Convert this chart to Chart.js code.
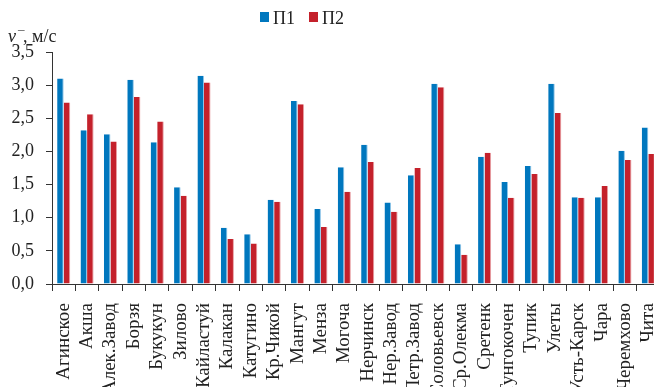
<!DOCTYPE html>
<html>
<head>
<meta charset="utf-8">
<script src="https://cdn.jsdelivr.net/npm/chart.js@4.4.1/dist/chart.umd.min.js"></script>
<style>
html,body{margin:0;padding:0;overflow:hidden;background:#fff;width:654px;height:387px;}
#wrap{width:654px;height:387px;overflow:hidden;position:relative;}
canvas{display:block;}
</style>
</head>
<body>
<div id="wrap"><canvas id="c" width="662" height="387"></canvas></div>
<script>
const categories = ['Агинское','Акша','Алек.Завод','Борзя','Букукун','Зилово','Кайластуй','Калакан','Катугино','Кр.Чикой','Мангут','Менза','Могоча','Нерчинск','Нер.Завод','Петр.Завод','Соловьевск','Ср.Олекма','Сретенк','Тунгокочен','Тупик','Улеты','Усть-Карск','Чара','Черемхово','Чита'];
const seriesP1 = [3.10,2.32,2.26,3.08,2.14,1.46,3.14,0.85,0.75,1.27,2.76,1.13,1.76,2.10,1.23,1.64,3.02,0.60,1.92,1.54,1.78,3.02,1.31,1.31,2.01,2.36];
const seriesP2 = [2.74,2.56,2.15,2.82,2.45,1.33,3.04,0.68,0.61,1.24,2.71,0.86,1.39,1.84,1.09,1.75,2.97,0.44,1.98,1.30,1.66,2.58,1.30,1.48,1.87,1.96];
const seriesNames = ['П1','П2'];
const yTickLabels = ['0,0','0,5','1,0','1,5','2,0','2,5','3,0','3,5'];
const yAxisLabel = ', м/с';

const FONT = "'Liberation Serif', 'Times New Roman', serif";
const BLUE = '#0077BE';
const RED = '#C4212B';

const overlay = {
  id: 'overlay',
  afterDraw(chart) {
    const ctx = chart.ctx;
    ctx.save();
    // axis label
    ctx.fillStyle = '#222';
    ctx.textBaseline = 'alphabetic';
    ctx.textAlign = 'left';
    ctx.font = 'italic 18px ' + FONT;
    ctx.fillText('v', 8, 42);
    ctx.font = '13px ' + FONT;
    ctx.fillText('¯', 18, 40);
    ctx.font = '18px ' + FONT;
    ctx.fillText(yAxisLabel, 23, 42);
    // legend
    const items = [{x: 260, c: BLUE}, {x: 309, c: RED}];
    chart.data.datasets.forEach((ds, i) => {
      const it = items[i];
      ctx.fillStyle = it.c;
      ctx.fillRect(it.x, 12, 9, 10);
      ctx.fillStyle = '#222';
      ctx.font = '18px ' + FONT;
      ctx.fillText(ds.label, it.x + 13, 24);
    });
    ctx.restore();
  }
};

new Chart(document.getElementById('c'), {
  type: 'bar',
  data: {
    labels: categories,
    datasets: [
      {label: seriesNames[0], data: seriesP1, backgroundColor: BLUE, borderColor: '#8cc4e8', borderWidth: {top:0, right:1, bottom:0, left:0}, borderSkipped: false},
      {label: seriesNames[1], data: seriesP2, backgroundColor: RED, borderColor: '#e8a0a4', borderWidth: {top:0, right:1, bottom:0, left:0}, borderSkipped: false}
    ]
  },
  options: {
    responsive: false,
    animation: false,
    devicePixelRatio: 1,
    layout: {padding: {top: 52, left: 0, right: 2, bottom: 0}},
    plugins: {legend: {display: false}, tooltip: {enabled: false}, title: {display: false}},
    datasets: {bar: {categoryPercentage: 0.56, barPercentage: 1.0}},
    scales: {
      x: {
        grid: {display: true, drawOnChartArea: false, drawTicks: true, tickLength: 7, color: '#333', offset: true},
        border: {display: true, color: '#333', width: 1},
        ticks: {autoSkip: false, minRotation: 90, maxRotation: 90, padding: 12, color: '#222', font: {family: FONT, size: 19}},
        afterFit(scale) { scale.height = 103; scale.paddingLeft = 0; scale.paddingRight = 0; }
      },
      y: {
        min: 0, max: 3.5,
        grid: {display: true, drawOnChartArea: false, drawTicks: true, tickLength: 6, color: '#333'},
        border: {display: true, color: '#333', width: 1},
        ticks: {stepSize: 0.5, padding: 12, color: '#222', font: {family: FONT, size: 18},
          callback: (v, i) => yTickLabels[i]},
        afterFit(scale) { scale.width = 52; scale.paddingTop = 0; scale.paddingBottom = 0; }
      }
    }
  },
  plugins: [overlay]
});
</script>
</body>
</html>
